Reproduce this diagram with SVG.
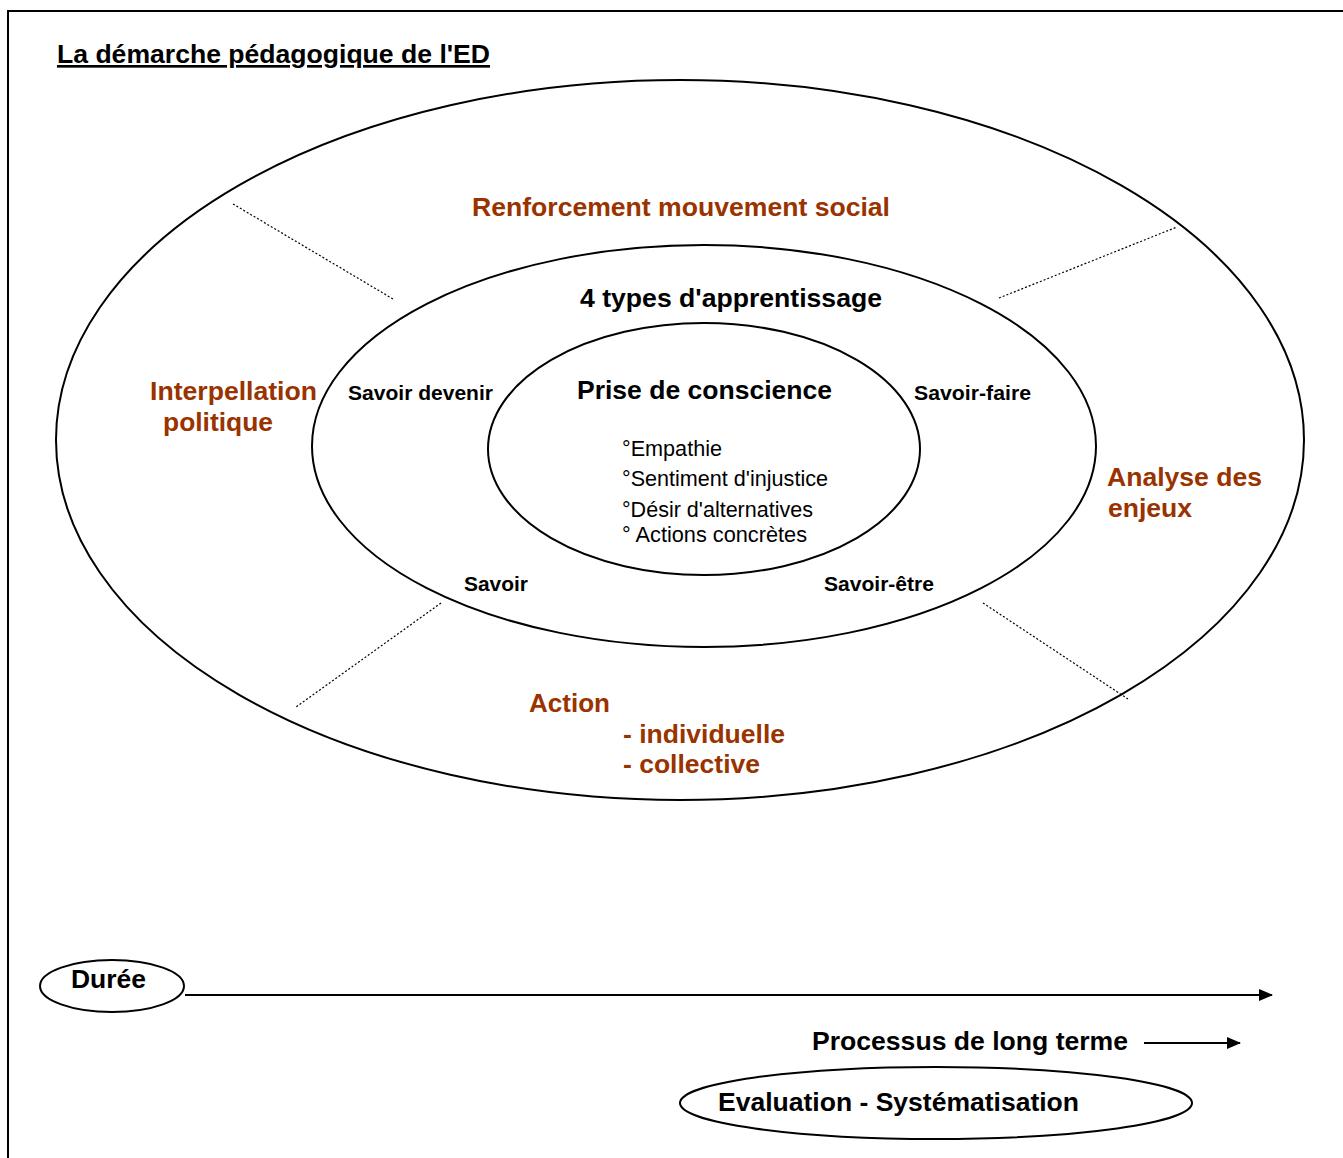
<svg xmlns="http://www.w3.org/2000/svg" width="1343" height="1158" viewBox="0 0 1343 1158">
<style>
text{font-family:"Liberation Sans",Arial,sans-serif;}
.b{font-weight:bold;}
.br{fill:#993300;font-weight:bold;font-size:26.5px;}
.ell{fill:none;stroke:#000;stroke-width:2;}
.dot{stroke:#000;stroke-width:1.2;stroke-dasharray:2 2;fill:none;}
.ln{stroke:#000;stroke-width:2;fill:none;}
</style>
<defs>
<marker id="ah" markerWidth="14" markerHeight="12" refX="13" refY="6" orient="auto" markerUnits="userSpaceOnUse" viewBox="0 0 14 12">
<path d="M0,0 L14,6 L0,12 z" fill="#000"/>
</marker>
</defs>
<rect x="0" y="0" width="1343" height="1158" fill="#fff"/>
<path d="M8,1158 V11 H1343" class="ln" stroke-width="2.5"/>
<text id="title" x="57" y="63" class="b" font-size="26.5" text-decoration="underline" textLength="433" lengthAdjust="spacingAndGlyphs">La démarche pédagogique de l'ED</text>

<g id="outer">
<ellipse cx="680" cy="440" rx="624" ry="360" class="ell"/>
</g>
<g id="middle">
<ellipse cx="704" cy="446" rx="392" ry="201" class="ell"/>
</g>
<g id="inner">
<ellipse cx="704" cy="449" rx="216" ry="126" class="ell"/>
</g>

<g id="connectors">
<line x1="233" y1="204" x2="393" y2="299" class="dot"/>
<line x1="999" y1="298" x2="1177" y2="227" class="dot"/>
<line x1="441" y1="603" x2="296" y2="707" class="dot"/>
<line x1="983" y1="603" x2="1128" y2="699" class="dot"/>
<line x1="185" y1="995" x2="1272" y2="995" class="ln" marker-end="url(#ah)"/>
<line x1="1144" y1="1043" x2="1240" y2="1043" class="ln" marker-end="url(#ah)"/>
</g>

<g id="labels-outer">
<text x="472" y="216" class="br" textLength="418" lengthAdjust="spacingAndGlyphs">Renforcement mouvement social</text>
<text x="150" y="400" class="br" textLength="167" lengthAdjust="spacingAndGlyphs">Interpellation</text>
<text x="163" y="431" class="br" textLength="110" lengthAdjust="spacingAndGlyphs">politique</text>
<text x="1107" y="486" class="br" textLength="155" lengthAdjust="spacingAndGlyphs">Analyse des</text>
<text x="1108" y="517" class="br" textLength="84" lengthAdjust="spacingAndGlyphs">enjeux</text>
<text x="529" y="712" class="br" textLength="81" lengthAdjust="spacingAndGlyphs">Action</text>
<text x="623" y="743" class="br" textLength="162" lengthAdjust="spacingAndGlyphs">- individuelle</text>
<text x="623" y="773" class="br" textLength="137" lengthAdjust="spacingAndGlyphs">- collective</text>
</g>

<g id="labels-middle">
<text x="580" y="307" class="b" font-size="26" textLength="302" lengthAdjust="spacingAndGlyphs">4 types d'apprentissage</text>
<text x="348" y="400" class="b" font-size="20.5" textLength="145" lengthAdjust="spacingAndGlyphs">Savoir devenir</text>
<text x="914" y="400" class="b" font-size="20.5" textLength="117" lengthAdjust="spacingAndGlyphs">Savoir-faire</text>
<text x="464" y="591" class="b" font-size="20.5" textLength="64" lengthAdjust="spacingAndGlyphs">Savoir</text>
<text x="824" y="591" class="b" font-size="20.5" textLength="110" lengthAdjust="spacingAndGlyphs">Savoir-être</text>
</g>

<g id="labels-inner">
<text x="577" y="399" class="b" font-size="26.5" textLength="255" lengthAdjust="spacingAndGlyphs">Prise de conscience</text>
<text x="622" y="456" font-size="21.5" textLength="100" lengthAdjust="spacingAndGlyphs">°Empathie</text>
<text x="622" y="486" font-size="21.5" textLength="206" lengthAdjust="spacingAndGlyphs">°Sentiment d'injustice</text>
<text x="622" y="517" font-size="21.5" textLength="191" lengthAdjust="spacingAndGlyphs">°Désir d'alternatives</text>
<text x="622" y="542" font-size="21.5" textLength="185" lengthAdjust="spacingAndGlyphs">° Actions concrètes</text>
</g>

<g id="duree">
<ellipse cx="112" cy="986" rx="72" ry="26" class="ell"/>
<text x="71" y="988" class="b" font-size="26.5" textLength="75" lengthAdjust="spacingAndGlyphs">Durée</text>
</g>
<g id="processus">
<text x="812" y="1050" class="b" font-size="26.5" textLength="316" lengthAdjust="spacingAndGlyphs">Processus de long terme</text>
</g>
<g id="evaluation">
<ellipse cx="936" cy="1103" rx="256" ry="36" class="ell"/>
<text x="718" y="1111" class="b" font-size="26.5" textLength="361" lengthAdjust="spacingAndGlyphs">Evaluation - Systématisation</text>
</g>
</svg>
